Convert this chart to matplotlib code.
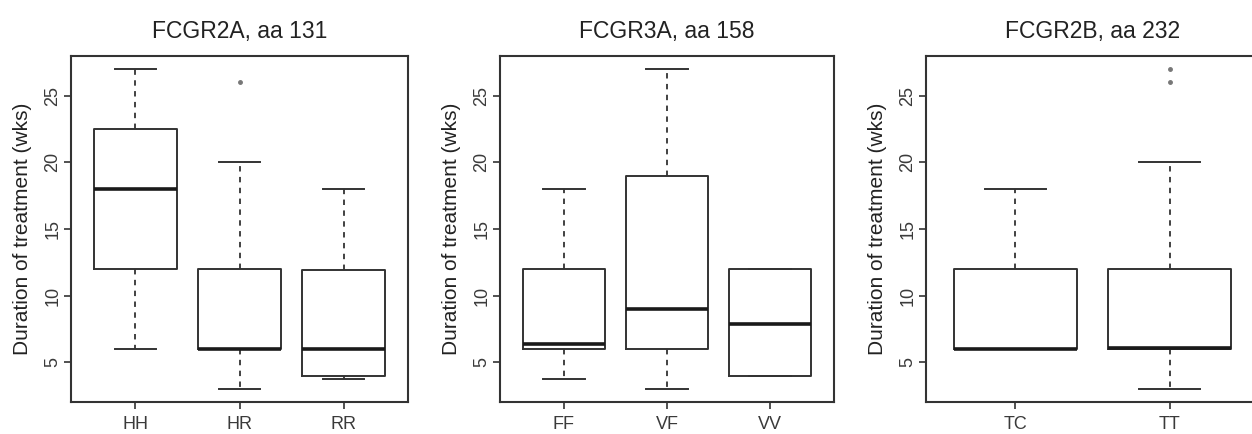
import matplotlib
matplotlib.use("Agg")
import matplotlib.pyplot as plt

plt.rcParams['font.family'] = ['Liberation Sans', 'DejaVu Sans']

# datos de cada panel
titulos = ["FCGR2A, aa 131", "FCGR3A, aa 158", "FCGR2B, aa 232"]

grupos_2a = ["HH", "HR", "RR"]
min_2a = [6, 3, 3.8]
q1_2a = [12, 6, 4]
med_2a = [18, 6, 6]
q3_2a = [22.5, 12, 11.9]
max_2a = [27, 20, 18]
out_2a = [[], [26], []]

grupos_3a = ["FF", "VF", "VV"]
min_3a = [3.8, 3, 4]
q1_3a = [6, 6, 4]
med_3a = [6.4, 9, 7.9]
q3_3a = [12, 19, 12]
max_3a = [18, 27, 12]
out_3a = [[], [], []]

grupos_2b = ["TC", "TT"]
min_2b = [6, 3]
q1_2b = [6, 6]
med_2b = [6, 6.1]
q3_2b = [12, 12]
max_2b = [18, 20]
out_2b = [[], [26, 27]]

paneles = [
    (grupos_2a, min_2a, q1_2a, med_2a, q3_2a, max_2a, out_2a),
    (grupos_3a, min_3a, q1_3a, med_3a, q3_3a, max_3a, out_3a),
    (grupos_2b, min_2b, q1_2b, med_2b, q3_2b, max_2b, out_2b),
]

gris = "#333333"
fig = plt.figure(figsize=(12.52, 4.34), dpi=100)

# posiciones de los ejes en pixeles (izq, ancho)
cajas = [(71, 337), (500, 334), (926, 333)]

for i, (grupos, lo, q1, med, q3, hi, out) in enumerate(paneles):
    izq, ancho = cajas[i]
    ax = fig.add_axes([izq / 1252, 32 / 434, ancho / 1252, 346 / 434])
    stats = []
    for j in range(len(grupos)):
        stats.append({"whislo": lo[j], "q1": q1[j], "med": med[j],
                      "q3": q3[j], "whishi": hi[j], "fliers": out[j],
                      "label": grupos[j]})
    ax.bxp(stats, widths=0.8, capwidths=0.4, showfliers=True,
           boxprops=dict(color=gris, linewidth=1.4),
           medianprops=dict(color="#1a1a1a", linewidth=2.6, solid_capstyle="butt"),
           whiskerprops=dict(color=gris, linewidth=1.3, linestyle=(0, (3, 3))),
           capprops=dict(color=gris, linewidth=1.4),
           flierprops=dict(marker="o", markersize=2.5, markerfacecolor="#777777",
                           markeredgecolor="#777777"))
    n = len(grupos)
    ext = n * 0.04
    ax.set_xlim(0.5 - ext, n + 0.5 + ext)
    ax.set_ylim(2.04, 27.96)
    ax.set_yticks([5, 10, 15, 20, 25])
    for lado in ax.spines.values():
        lado.set_color(gris)
        lado.set_linewidth(1.5)
    ax.tick_params(axis="both", colors=gris, length=5, width=1.2, labelcolor="#3a3a3a")
    ax.tick_params(axis="y", labelsize=13, pad=2)
    ax.tick_params(axis="x", labelsize=13, pad=5)
    for t in ax.get_yticklabels():
        t.set_rotation(90)
        t.set_va("center")
    ax.set_ylabel("Duration of treatment (wks)", fontsize=15, color="#222222", labelpad=9)
    ax.set_title(titulos[i], fontsize=16.5, color="#222222", pad=13)

plt.savefig("out.png", dpi=100)
